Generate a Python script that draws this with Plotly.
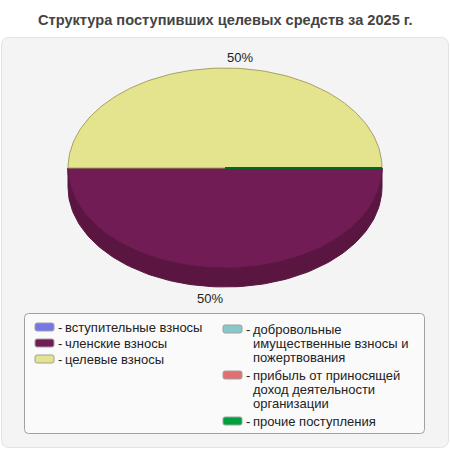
import math
import textwrap
import plotly.graph_objects as go

title = "Структура поступивших целевых средств за 2025 г."

categories = [
    "вступительные взносы",
    "членские взносы",
    "целевые взносы",
    "добровольные имущественные взносы и пожертвования",
    "прибыль от приносящей доход деятельности организации",
    "прочие поступления",
]
values = [0, 50, 50, 0, 0, 0]
colors = ["#7676e8", "#721c56", "#e4e48e", "#88c8c8", "#e07070", "#00a03c"]
edge_colors = ["#5a5ab0", "#5a1645", "#a8a060", "#60a0a0", "#b05050", "#006a28"]
side_colors = ["#5c5cb8", "#5a1541", "#b4b470", "#6a9c9c", "#b05858", "#007a2e"]

# pie geometry in pixels (axes map 1:1 onto the 450x450 page)
cx, cy, rx, ry, depth = 225, 168, 157, 100, 19


def arc(a0, a1, dy=0, n=120):
    pts = []
    for i in range(n + 1):
        a = math.radians(a0 + (a1 - a0) * i / n)
        pts.append((cx + rx * math.cos(a), cy + ry * math.sin(a) + dy))
    return pts


def rounded_rect(x0, y0, x1, y1, r):
    return (f"M{x0+r},{y0} L{x1-r},{y0} Q{x1},{y0} {x1},{y0+r} "
            f"L{x1},{y1-r} Q{x1},{y1} {x1-r},{y1} L{x0+r},{y1} "
            f"Q{x0},{y1} {x0},{y1-r} L{x0},{y0+r} Q{x0},{y0} {x0+r},{y0} Z")


fig = go.Figure()

total = sum(values)
starts = []
acc = 0
for v in values:
    starts.append(acc / total * 360)
    acc += v

# sides of the front half
for i, v in enumerate(values):
    if v == 0:
        continue
    a0, a1 = starts[i], starts[i] + v / total * 360
    s0, s1 = max(a0, 0), min(a1, 180)
    if s1 <= s0:
        continue
    top = arc(s0, s1)
    bot = arc(s1, s0, dy=depth)
    pts = top + bot + [top[0]]
    fig.add_trace(go.Scatter(
        x=[p[0] for p in pts], y=[p[1] for p in pts], mode="lines",
        fill="toself", fillcolor=side_colors[i],
        line=dict(color=side_colors[i], width=1), hoverinfo="skip"))

# top surfaces
for i, v in enumerate(values):
    if v == 0:
        continue
    a0, a1 = starts[i], starts[i] + v / total * 360
    pts = [(cx, cy)] + arc(a0, a1) + [(cx, cy)]
    fig.add_trace(go.Scatter(
        x=[p[0] for p in pts], y=[p[1] for p in pts], mode="lines",
        fill="toself", fillcolor=colors[i],
        line=dict(color=edge_colors[i], width=1), hoverinfo="skip"))

# zero slices show up as a single radius line
for i, v in enumerate(values):
    if v != 0:
        continue
    a = math.radians(starts[i])
    fig.add_trace(go.Scatter(
        x=[cx, cx + rx * math.cos(a)], y=[cy, cy + ry * math.sin(a)],
        mode="lines", line=dict(color=edge_colors[i], width=2),
        hoverinfo="skip"))

annotations = []
for i, v in enumerate(values):
    if v == 0:
        continue
    mid = math.radians(starts[i] + v / total * 180)
    s = math.sin(mid)
    lx = cx + (rx + 12) * math.cos(mid)
    ly = cy + (ry + 11) * s + (depth if s > 0 else 0)
    annotations.append(dict(
        x=lx, y=ly, xref="x", yref="y", text=f"{v / total * 100:.0f}%",
        showarrow=False, xanchor="left" if s < 0 else "right",
        yanchor="middle", font=dict(size=13, color="#222222")))

annotations.append(dict(
    x=225, y=20, xref="x", yref="y", text=f"<b>{title}</b>", showarrow=False,
    xanchor="center", yanchor="middle", font=dict(size=14.6, color="#444444")))

shapes = [
    dict(type="path", path=rounded_rect(1.5, 37.5, 448.5, 447.5, 8),
         xref="x", yref="y", fillcolor="#f4f4f4",
         line=dict(color="#e2e2e2", width=1), layer="below"),
    dict(type="path", path=rounded_rect(24.5, 313.5, 424.5, 433.5, 4),
         xref="x", yref="y", fillcolor="#fafafa",
         line=dict(color="#a0a0a0", width=1), layer="below"),
]

# legend: two columns, three items each
col_x = [35, 223]
col_y0 = [327, 329]
line_h = 14
for col in range(2):
    y = col_y0[col]
    for i in range(col * 3, col * 3 + 3):
        x0 = col_x[col]
        shapes.append(dict(
            type="path", path=rounded_rect(x0, y - 4, x0 + 19, y + 4, 2),
            xref="x", yref="y", fillcolor=colors[i],
            line=dict(color="#a0a0a0", width=1)))
        annotations.append(dict(
            x=x0 + 21, y=y, xref="x", yref="y", text="-", showarrow=False,
            xanchor="left", yanchor="middle",
            font=dict(size=13, color="#222222")))
        lines = textwrap.wrap(categories[i], 22)
        for k, ln in enumerate(lines):
            annotations.append(dict(
                x=x0 + 28, y=y + k * line_h, xref="x", yref="y", text=ln,
                showarrow=False, xanchor="left", yanchor="middle",
                font=dict(size=13, color="#222222")))
        y += max(len(lines), 1) * line_h + (2 if col == 0 else 4)

fig.update_layout(
    width=450, height=450,
    margin=dict(l=0, r=0, t=0, b=0),
    paper_bgcolor="white", plot_bgcolor="white",
    showlegend=False,
    font=dict(family="Liberation Sans, Arial, sans-serif"),
    xaxis=dict(range=[0, 450], visible=False, fixedrange=True),
    yaxis=dict(range=[450, 0], visible=False, fixedrange=True),
    shapes=shapes, annotations=annotations,
)

# the page's default body margin would shift the 450x450 figure
fig.write_html("out.html", config={"displayModeBar": False},
               post_script="document.body.style.margin='0';")
